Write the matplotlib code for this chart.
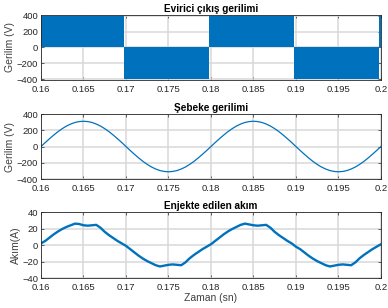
import numpy as np
import matplotlib
matplotlib.use('Agg')
import matplotlib.pyplot as plt

plt.rcParams['font.family'] = ['Liberation Sans', 'DejaVu Sans']

# Evirici çıkış gerilimi: anahtarlama bloklari (baslangic, bitis, seviye)
inv_start = [0.1600, 0.1698, 0.1798, 0.1898, 0.1998]
inv_end = [0.1698, 0.1798, 0.1898, 0.1998, 0.2000]
inv_level = [400, -400, 400, -400, 400]

# Zaman ekseni (0.5 ms adim)
t = [0.1600 + 0.0005 * k for k in range(81)]

# Şebeke gerilimi (V)
v_grid = [0, 49, 96, 141, 183, 220, 252, 277, 296, 307, 311,
          307, 296, 277, 252, 220, 183, 141, 96, 49, 0,
          -49, -96, -141, -183, -220, -252, -277, -296, -307, -311,
          -307, -296, -277, -252, -220, -183, -141, -96, -49, 0,
          49, 96, 141, 183, 220, 252, 277, 296, 307, 311,
          307, 296, 277, 252, 220, 183, 141, 96, 49, 0,
          -49, -96, -141, -183, -220, -252, -277, -296, -307, -311,
          -307, -296, -277, -252, -220, -183, -141, -96, -49, 0]

# Enjekte edilen akım (A)
i_inj = [2, 5, 9, 13, 16.5, 19.5, 22, 24, 26, 25.5, 24,
         23.5, 24, 24.5, 21, 16, 12, 8.5, 5, 2, -1,
         -5, -9, -13, -16.5, -19.5, -22, -24.5, -26, -25, -24,
         -23.5, -24, -24.5, -21, -16, -12, -8.5, -5, -2, 1,
         5, 9, 13, 16.5, 19.5, 22, 24.5, 26, 25, 24,
         23.5, 24, 24.5, 21, 16, 12, 8.5, 5, 2, -2,
         -5, -9, -13, -16.5, -19.5, -22, -24.5, -26, -25, -24,
         -23.5, -24, -24.5, -21, -16, -12, -8.5, -5, -2, 1]

xticks = [0.16, 0.165, 0.17, 0.175, 0.18, 0.185, 0.19, 0.195, 0.2]
xticklabels = ['0.16', '0.165', '0.17', '0.175', '0.18', '0.185', '0.19', '0.195', '0.2']

blue = '#0072BD'
fig = plt.figure(figsize=(3.88, 3.08), dpi=100)

def style(ax, ylim, yticks, title, ylabel):
    ax.set_xlim(0.16, 0.2)
    ax.set_ylim(*ylim)
    ax.set_xticks(xticks)
    ax.set_xticklabels(xticklabels)
    ax.set_yticks(yticks)
    ax.grid(True, color='#d9d9d9', linewidth=1.1)
    ax.set_axisbelow(True)
    ax.tick_params(direction='in', length=2, width=0.5, labelsize=6.8,
                   colors='#262626', top=True, right=True)
    ax.tick_params(axis='x', pad=3.5)
    ax.tick_params(axis='y', pad=2)
    for s in ax.spines.values():
        s.set_color('#262626')
        s.set_linewidth(0.6)
    ax.set_title(title, fontsize=7.2, fontweight='bold', pad=2)
    ax.set_ylabel(ylabel, fontsize=7.5, color='#404040', labelpad=1)

# Evirici çıkış gerilimi
ax1 = fig.add_axes([0.1057, 0.7403, 0.876, 0.211])
for a, b, lv in zip(inv_start, inv_end, inv_level):
    ax1.fill_between([a, b], 0, lv, color=blue, linewidth=0)
style(ax1, (-412, 412), [-400, -200, 0, 200, 400], 'Evirici çıkış gerilimi', 'Gerilim (V)')

# Şebeke gerilimi
ax2 = fig.add_axes([0.1057, 0.4188, 0.876, 0.211])
ax2.plot(t, v_grid, color=blue, linewidth=0.9)
style(ax2, (-400, 400), [-400, -200, 0, 200, 400], 'Şebeke gerilimi', 'Gerilim (V)')

# Enjekte edilen akım
ax3 = fig.add_axes([0.1057, 0.0974, 0.876, 0.214])
ax3.plot(t, i_inj, color=blue, linewidth=1.7)
style(ax3, (-40, 40), [-40, -20, 0, 20, 40], 'Enjekte edilen akım', 'Akım(A)')
ax3.set_xlabel('Zaman (sn)', fontsize=7.5, color='#404040', labelpad=1)

fig.savefig('out.png', dpi=100)
